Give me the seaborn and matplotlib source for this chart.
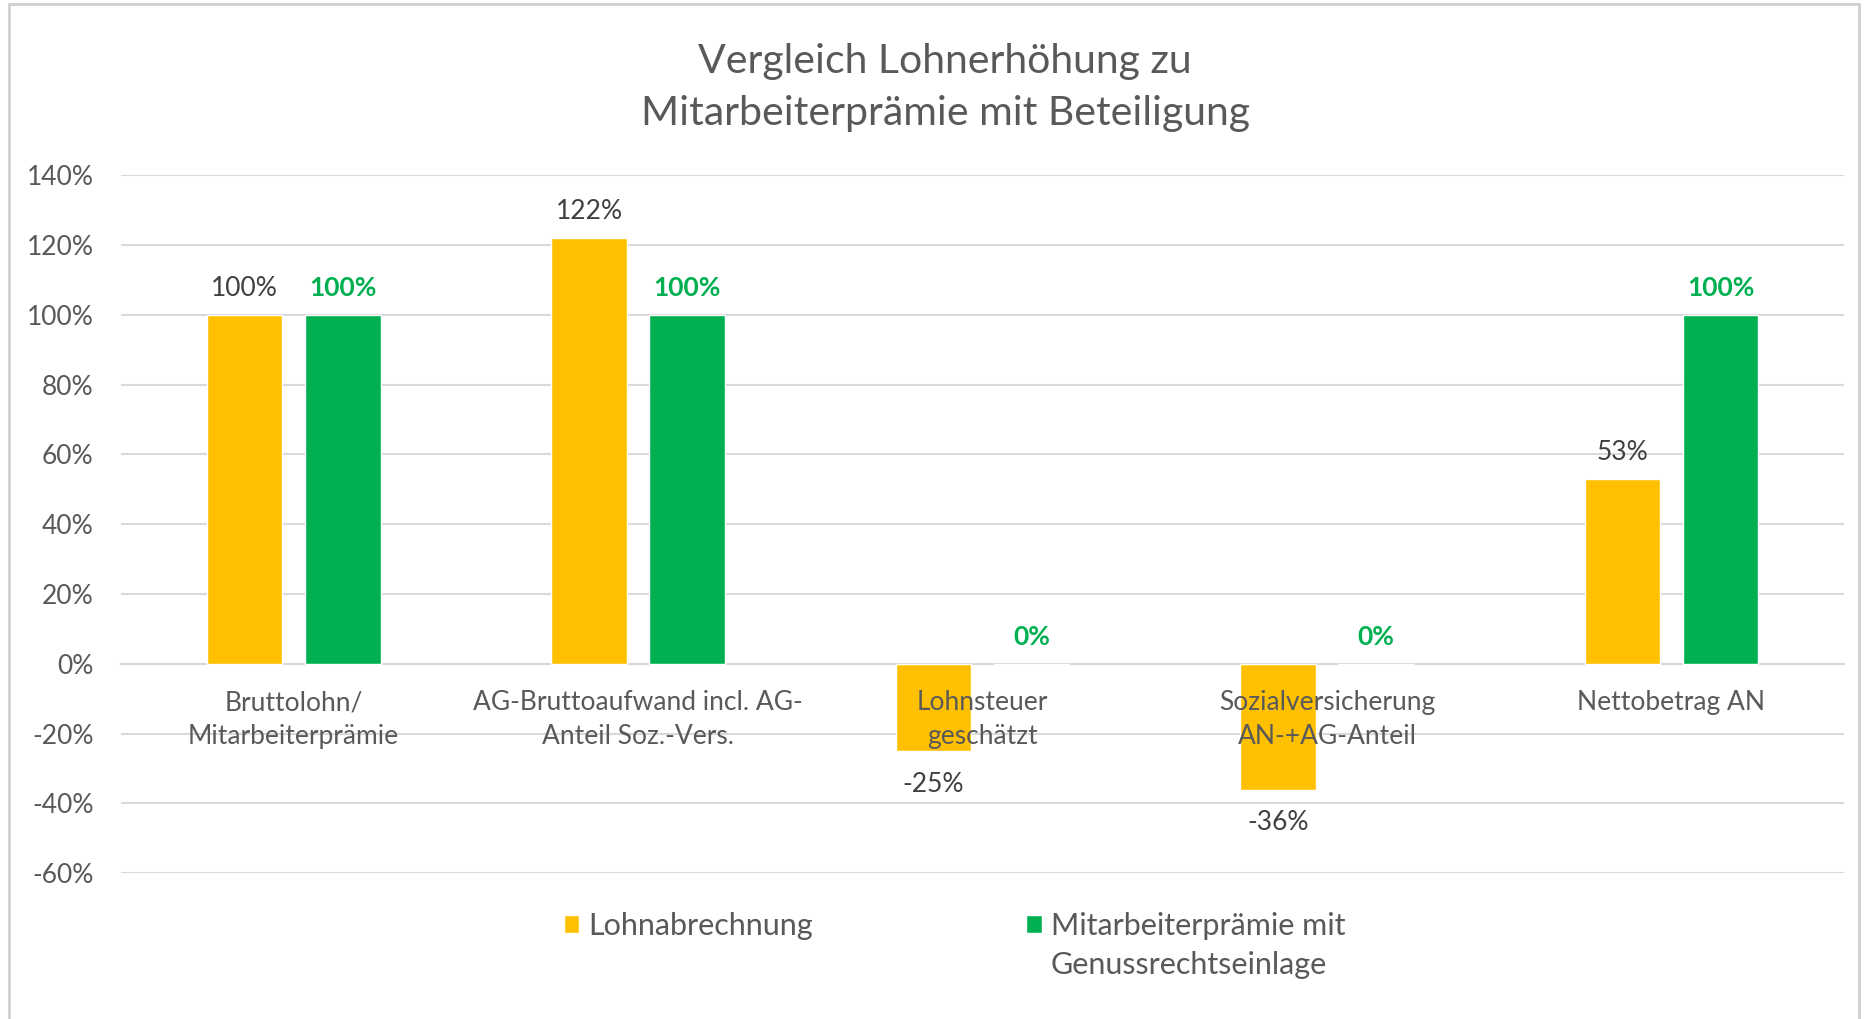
import pandas as pd
import numpy as np
import matplotlib.pyplot as plt
import seaborn as sns
from matplotlib.patches import Rectangle
from matplotlib.ticker import FuncFormatter, MultipleLocator

# Daten
kategorien = ["Bruttolohn/\nMitarbeiterprämie",
              "AG-Bruttoaufwand incl. AG-\nAnteil Soz.-Vers.",
              "Lohnsteuer\ngeschätzt",
              "Sozialversicherung\nAN-+AG-Anteil",
              "Nettobetrag AN"]
serien = ["Lohnabrechnung", "Mitarbeiterprämie mit Genussrechtseinlage"]
legende_zeile1 = ["Lohnabrechnung", "Mitarbeiterprämie mit"]
legende_zeile2 = "Genussrechtseinlage"
lohnabrechnung = [100, 122, -25, -36, 53]
mitarbeiterpraemie = [100, 100, 0, 0, 100]
titel = "Vergleich Lohnerhöhung zu\nMitarbeiterprämie mit Beteiligung"

farben = ["#FFC000", "#00B050"]
grau = "#595959"

df = pd.DataFrame({
    "Kategorie": kategorien * 2,
    "Serie": [serien[0]] * len(kategorien) + [serien[1]] * len(kategorien),
    "Wert": lohnabrechnung + mitarbeiterpraemie,
})

sns.set_style("white")
plt.rcParams['font.family'] = ['Lato', 'DejaVu Sans']

fig = plt.figure(figsize=(18.68, 10.19), dpi=100)
ax = fig.add_axes([0.065, 0.143, 0.922, 0.685])

sns.barplot(data=df, x="Kategorie", y="Wert", hue="Serie", palette=farben,
            width=0.57, gap=0.23, errorbar=None, ax=ax, saturation=1)

ax.set_ylim(-60, 140)
ax.yaxis.set_major_locator(MultipleLocator(20))
ax.yaxis.set_major_formatter(FuncFormatter(lambda v, p: f"{v:.0f}%"))
ax.grid(axis="y", color="#D9D9D9", linewidth=1.5)
ax.set_axisbelow(True)
ax.xaxis.set_zorder(3)  # Kategorien über den Balken wie in Excel
for s in ["top", "right", "left"]:
    ax.spines[s].set_visible(False)
ax.spines["bottom"].set_position(("data", 0))
ax.spines["bottom"].set_color("#D9D9D9")
ax.spines["bottom"].set_linewidth(1.5)
ax.spines["bottom"].set_zorder(0.6)
ax.tick_params(axis="y", length=0, pad=20, labelsize=19, labelcolor=grau)
ax.tick_params(axis="x", length=0, pad=19, labelsize=19, labelcolor=grau)
for lbl in ax.get_xticklabels():
    lbl.set_linespacing(1.42)
ax.set_xlabel("")
ax.set_ylabel("")

# Datenbeschriftungen (negative Werte etwas weiter weg)
fmt = lambda v: f"{v:.0f}%"
ax.bar_label(ax.containers[0], labels=[fmt(v) if v >= 0 else "" for v in lohnabrechnung],
             padding=10, fontsize=19, color="#404040")
ax.bar_label(ax.containers[0], labels=[fmt(v) if v < 0 else "" for v in lohnabrechnung],
             padding=15, fontsize=19, color="#404040")
ax.bar_label(ax.containers[1], labels=[fmt(v) for v in mitarbeiterpraemie],
             padding=11, fontsize=19, color="#00B050", fontweight="bold")

# Legende
handles, _ = ax.get_legend_handles_labels()
ax.get_legend().remove()
leg = fig.legend(handles, legende_zeile1, loc="center left",
                 bbox_to_anchor=(0.2935, 0.0913), ncol=2, frameon=False,
                 fontsize=22, labelcolor=grau, handlelength=0.5, handleheight=0.5,
                 handletextpad=0.3, columnspacing=7.0, borderpad=0)

fig.suptitle(titel, x=0.506, y=0.958, fontsize=29.5, color=grau, linespacing=1.5)

fig.canvas.draw()
bb = leg.get_texts()[1].get_window_extent().transformed(fig.transFigure.inverted())
fig.text(bb.x0, 0.053, legende_zeile2, fontsize=22, color=grau, va="center", ha="left")

# Rahmen
fig.patches.append(Rectangle((0.005, -0.01), 0.99, 1.006, transform=fig.transFigure,
                             fill=False, edgecolor="#D0D0D0", linewidth=2))

plt.savefig("out.png", dpi=100)
